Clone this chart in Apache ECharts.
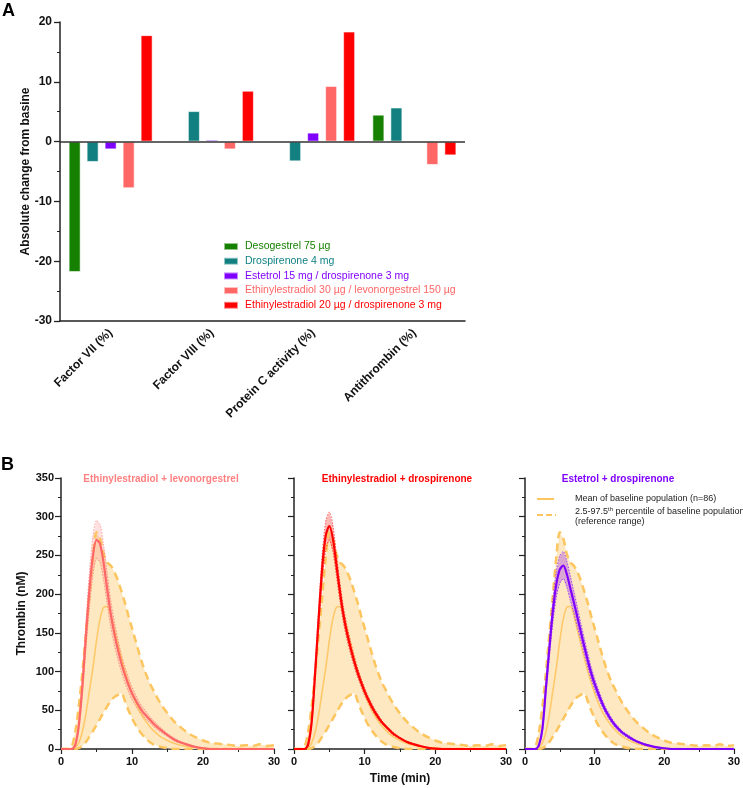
<!DOCTYPE html>
<html><head><meta charset="utf-8">
<script src="https://cdn.jsdelivr.net/npm/echarts@6/dist/echarts.min.js"></script>
<style>html,body{margin:0;padding:0;background:#fff}#c{width:743px;height:788px}</style>
</head><body><div id="c"></div>
<script>
// ---------- Panel A data ----------
const categories = ['Factor VII (%)', 'Factor VIII (%)', 'Protein C activity (%)', 'Antithrombin (%)'];
const seriesNames = ['Desogestrel 75 µg', 'Drospirenone 4 mg', 'Estetrol 15 mg / drospirenone 3 mg',
  'Ethinylestradiol 30 µg / levonorgestrel 150 µg', 'Ethinylestradiol 20 µg / drospirenone 3 mg'];
const desogestrel = [-21.8, -0.2, -0.1, 4.5];
const drospirenone = [-3.4, 5.1, -3.3, 5.7];
const estetrolDrsp = [-1.3, 0.3, 1.5, 0.1];
const eeLng = [-7.8, -1.3, 9.3, -3.9];
const eeDrsp = [17.8, 8.5, 18.4, -2.3];
const yTicksA = [-30, -20, -10, 0, 10, 20];

// ---------- Panel B data ----------
const time = [0,1,1.5,2,2.5,3,3.5,4,4.5,5, 5.5,6,6.5,7,7.5,8,8.5,9,9.5,10, 10.5,11,11.5,12,12.5,13, 14,15,16,17,18,19,20,21,22,23,24,25,26,27,28,29,30];
const baseMean = [0,0,0,2,8,22,45,75,105,140, 168,183,184,173,155,136,118,101,86,72, 60,50,42,35,29,24, 16,11,7,4.5,3,2,1,0.5,0,0,0,0,0,0,0,0,0];
const refUpper = [0,0,3,22,55,98,148,198,248,280, 272,252,241,237,229,218,204,189,172,156, 140,124,109,96,85,76, 59,46,35,27,20,15,11,8,7,6,5,4,5,4,6,4,5];
const refLower = [0,0,0,0,1,4,9,16,23,31, 39,47,55,62,67,70,72,62,50,40, 31,24,18,13,9,6, 3,1,0,0,0,0,0,0,0,0,0,0,0,0,0,0,0];
const eeLngMean = [0,0,0,5,30,80,145,205,250,270, 265,240,207,175,150,129,111,96,83,72, 63,55,48,43,38,33, 25,18,12,8,5,2.5,1,0,0,0,0,0,0,0,0,0,0];
const eeLngUpper = [0,0,0,7,36,92,163,228,275,295, 290,263,227,192,165,142,122,106,92,80, 70,61,54,48,42,37, 28,20,14,9,6,3,1.5,0.5,0,0,0,0,0,0,0,0,0];
const eeLngLower = [0,0,0,3,24,68,127,182,225,246, 241,218,188,158,135,116,100,86,74,64, 56,49,43,38,34,29, 22,16,10,7,4,2,0.5,0,0,0,0,0,0,0,0,0,0];
const eeDrspMean = [0,0,0,6,35,100,170,235,276,288, 272,238,203,173,150,131,114,99,86,74, 64,55,47,40,34,29, 20,14,9,6,3.5,1.5,0.5,0,0,0,0,0,0,0,0,0,0];
const eeDrspUpper = [0,0,0,8,40,110,183,252,295,306, 289,252,215,183,159,139,121,105,91,79, 68,59,50,43,36,31, 22,15,10,7,4,2,0.8,0,0,0,0,0,0,0,0,0,0];
const eeDrspLower = [0,0,0,4,30,90,157,218,257,270, 255,224,191,163,141,123,107,93,81,69, 60,51,44,37,32,27, 18,13,8,5,3,1,0.2,0,0,0,0,0,0,0,0,0,0];
const e4DrspMean = [0,0,0,5,26,78,130,178,213,232, 237,226,208,190,171,152,133,115,98,84, 72,61,51,43,36,30, 21,15,10,6.5,4,2,1,0,0,0,0,0,0,0,0,0,0];
const e4DrspUpper = [0,0,0,6,29,86,141,193,230,250, 255,243,224,204,184,163,143,124,106,91, 78,66,55,47,39,33, 23,17,11,7.5,4.5,2.5,1.2,0.2,0,0,0,0,0,0,0,0,0];
const e4DrspLower = [0,0,0,4,23,70,119,163,196,214, 220,209,192,176,158,141,123,106,90,77, 66,56,47,39,33,27, 19,13,9,5.5,3.5,1.5,0.8,0,0,0,0,0,0,0,0,0,0];
const panelTitles = ['Ethinylestradiol + levonorgestrel', 'Ethinylestradiol + drospirenone', 'Estetrol + drospirenone'];

// ---------- styling ----------
const FONT = '"Liberation Sans", Arial, sans-serif';
const barColors = ['#168000', '#128080', '#8000ff', '#ff6666', '#ff0000'];
const AXIS = '#222';
const REF_FILL = '#fde8c2';
const REF_LINE = '#fcc55e';
const MEAN_LINE = '#ffc96b';

const chart = echarts.init(document.getElementById('c'), null, {renderer: 'canvas'});

const pairs = (v) => time.map((t, i) => [t, v[i]]);

// band between two curves, drawn through the axis scales
function band(ax, upper, lower, fill) {
  return {
    type: 'custom', coordinateSystem: 'cartesian2d', xAxisIndex: ax, yAxisIndex: ax,
    silent: true, clip: true, data: [[0, 0]],
    renderItem: function (params, api) {
      const pts = [];
      for (let i = 0; i < time.length; i++) pts.push(api.coord([time[i], upper[i]]));
      for (let i = time.length - 1; i >= 0; i--) pts.push(api.coord([time[i], lower[i]]));
      return {type: 'polygon', shape: {points: pts}, style: {fill: fill, stroke: null}};
    }
  };
}

const barData = [desogestrel, drospirenone, estetrolDrsp, eeLng, eeDrsp];
const series = [];
barData.forEach((d, i) => {
  const s = {
    name: seriesNames[i], type: 'bar', xAxisIndex: 0, yAxisIndex: 0,
    data: d, barWidth: 12, barGap: '50%',
    itemStyle: {color: barColors[i], borderColor: 'rgba(255,255,255,0.55)', borderWidth: 1}
  };
  if (i === 0) {
    s.markLine = {silent: true, symbol: ['none', 'none'], label: {show: false},
      lineStyle: {color: '#333', width: 1.6, type: 'solid'}, data: [{yAxis: 0}]};
  }
  series.push(s);
});

const panels = [
  {mean: eeLngMean, up: eeLngUpper, lo: eeLngLower, color: '#ff6666', fill: 'rgba(255,110,110,0.22)', title: '#ff8080'},
  {mean: eeDrspMean, up: eeDrspUpper, lo: eeDrspLower, color: '#ff0000', fill: 'rgba(255,30,30,0.32)', title: '#ff0000'},
  {mean: e4DrspMean, up: e4DrspUpper, lo: e4DrspLower, color: '#8000ff', fill: 'rgba(128,0,255,0.28)', title: '#8000ff'}
];
const SM = 0.3;
panels.forEach((p, k) => {
  const ax = k + 1;
  const common = {type: 'line', xAxisIndex: ax, yAxisIndex: ax, showSymbol: false, symbol: 'none', smooth: SM, silent: true};
  series.push(band(ax, refUpper, refLower, REF_FILL));
  series.push(Object.assign({}, common, {data: pairs(baseMean), lineStyle: {color: MEAN_LINE, width: 1.6}}));
  series.push(Object.assign({}, common, {data: pairs(refUpper), lineStyle: {color: REF_LINE, width: 2.5, type: [8, 5]}}));
  series.push(Object.assign({}, common, {data: pairs(refLower), lineStyle: {color: REF_LINE, width: 2.5, type: [8, 5]}}));
  series.push(band(ax, p.up, p.lo, p.fill));
  series.push(Object.assign({}, common, {data: pairs(p.up), lineStyle: {color: p.color, width: 0.8, type: [1.5, 1.5], opacity: 0.8}}));
  series.push(Object.assign({}, common, {data: pairs(p.lo), lineStyle: {color: p.color, width: 0.8, type: [1.5, 1.5], opacity: 0.8}}));
  series.push(Object.assign({}, common, {data: pairs(p.mean), lineStyle: {color: p.color, width: 2.2}}));
});

const gridsB = [{left: 61, width: 213}, {left: 294, width: 212}, {left: 525, width: 210}];
const grids = [{left: 60, top: 22, width: 405, height: 299}].concat(gridsB.map(g => ({left: g.left, width: g.width, top: 478, height: 271})));

const xAxes = [{
  type: 'category', gridIndex: 0, data: categories,
  axisLine: {onZero: false, lineStyle: {color: AXIS, width: 1.5}},
  axisTick: {alignWithLabel: true, length: 6, lineStyle: {color: AXIS, width: 1.3}},
  axisLabel: {rotate: 45, interval: 0, color: '#111', fontWeight: 'bold', fontSize: 12, fontFamily: FONT, margin: 10},
  splitLine: {show: false}
}];
const yAxes = [{
  type: 'value', gridIndex: 0, min: yTicksA[0], max: yTicksA[yTicksA.length - 1], interval: 10,
  name: 'Absolute change from basine', nameLocation: 'middle', nameGap: 28, nameMoveOverlap: false,
  nameTextStyle: {color: '#111', fontWeight: 'bold', fontSize: 12, fontFamily: FONT},
  axisLine: {show: true, lineStyle: {color: AXIS, width: 1.5}},
  axisTick: {show: true, length: 6, lineStyle: {color: AXIS, width: 1.3}},
  minorTick: {show: true, splitNumber: 2, length: 3, lineStyle: {color: AXIS, width: 1}},
  axisLabel: {color: '#111', fontWeight: 'bold', fontSize: 12, fontFamily: FONT, margin: 8},
  splitLine: {show: false}, minorSplitLine: {show: false}
}];
[0, 1, 2].forEach(k => {
  const xa = {
    type: 'value', gridIndex: k + 1, min: 0, max: 30, interval: 10,
    axisLine: {onZero: false, lineStyle: {color: AXIS, width: 1.5}},
    axisTick: {length: 5, lineStyle: {color: AXIS, width: 1.2}},
    minorTick: {show: true, splitNumber: 2, length: 3, lineStyle: {color: AXIS, width: 1}},
    axisLabel: {color: '#111', fontWeight: 'bold', fontSize: 11, fontFamily: FONT, margin: 7},
    splitLine: {show: false}, minorSplitLine: {show: false}
  };
  if (k === 1) {
    xa.name = 'Time (min)'; xa.nameLocation = 'middle'; xa.nameGap = 24; xa.nameMoveOverlap = false;
    xa.nameTextStyle = {color: '#111', fontWeight: 'bold', fontSize: 12, fontFamily: FONT};
  }
  xAxes.push(xa);
  const ya = {
    type: 'value', gridIndex: k + 1, min: 0, max: 350, interval: 50,
    axisLine: {show: true, onZero: false, lineStyle: {color: AXIS, width: 1.5}},
    axisTick: {show: true, length: 6, lineStyle: {color: AXIS, width: 1.2}},
    minorTick: {show: true, splitNumber: 2, length: 3, lineStyle: {color: AXIS, width: 1}},
    axisLabel: {show: k === 0, color: '#111', fontWeight: 'bold', fontSize: 11, fontFamily: FONT, margin: 7},
    splitLine: {show: false}, minorSplitLine: {show: false}
  };
  if (k === 0) {
    ya.name = 'Thrombin (nM)'; ya.nameLocation = 'middle'; ya.nameGap = 33; ya.nameMoveOverlap = false;
    ya.nameTextStyle = {color: '#111', fontWeight: 'bold', fontSize: 12, fontFamily: FONT};
  }
  yAxes.push(ya);
});

const titleX = [161, 397, 618];
const graphics = [
  {type: 'text', x: 2, y: 11, style: {text: 'A', font: 'bold 18px ' + FONT, fill: '#000', verticalAlign: 'middle'}},
  {type: 'text', x: 1, y: 465, style: {text: 'B', font: 'bold 18px ' + FONT, fill: '#000', verticalAlign: 'middle'}}
];
panelTitles.forEach((t, k) => {
  graphics.push({type: 'text', x: titleX[k], y: 479, style: {text: t, font: 'bold 10px ' + FONT, fill: panels[k].title, align: 'center', verticalAlign: 'middle'}});
});
// Panel B legend
graphics.push({type: 'line', shape: {x1: 537, y1: 499, x2: 554, y2: 499}, style: {stroke: REF_LINE, lineWidth: 2}});
graphics.push({type: 'line', shape: {x1: 537, y1: 515, x2: 556, y2: 515}, style: {stroke: REF_LINE, lineWidth: 2, lineDash: [6, 3]}});
graphics.push({type: 'text', x: 575, y: 499, style: {text: 'Mean of baseline population (n=86)', font: '9px ' + FONT, fill: '#222', verticalAlign: 'middle'}});
graphics.push({type: 'text', x: 575, y: 512, style: {text: '2.5-97.5{sup|th} percentile of baseline population', font: '9px ' + FONT, fill: '#222', verticalAlign: 'middle',
  rich: {sup: {fontSize: 6, fontFamily: FONT, fill: '#222', padding: [0, 0, 6, 0]}}}});
graphics.push({type: 'text', x: 575, y: 522, style: {text: '(reference range)', font: '9px ' + FONT, fill: '#222', verticalAlign: 'middle'}});

const option = {
  animation: false,
  backgroundColor: '#fff',
  textStyle: {fontFamily: FONT},
  legend: {
    show: true, orient: 'vertical', left: 218, top: 235, itemWidth: 14, itemHeight: 7, itemGap: 1.7,
    icon: 'rect', selectedMode: false,
    data: seriesNames.map((n, i) => ({name: n, textStyle: {color: barColors[i]}})),
    textStyle: {fontSize: 10.5, fontFamily: FONT, lineHeight: 13, padding: [0, 0, 0, 2]}
  },
  grid: grids,
  xAxis: xAxes,
  yAxis: yAxes,
  series: series,
  graphic: graphics
};
chart.setOption(option);
</script></body></html>
